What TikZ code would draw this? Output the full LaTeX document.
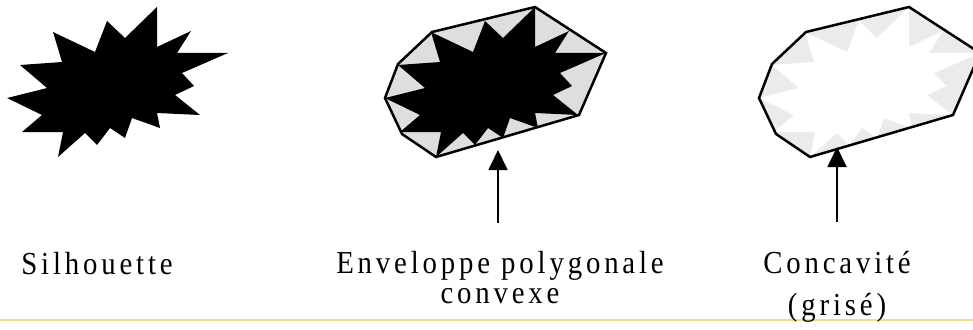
\documentclass[tikz,border=0pt]{standalone}
\usepackage{fontspec}
\setmainfont{Liberation Serif}[LetterSpace=12, FakeStretch=0.9]
\usetikzlibrary{arrows.meta}

% outline of the black spiky blob and of its convex hull
\newcommand{\starpath}{(7,98) -- (47,88) -- (20,65) -- (62,62) -- (53,32) -- (95,52) -- (107,21) -- (125,38) -- (157,7) -- (157,47) -- (191,31) -- (177,53) -- (228,53) -- (182,73) -- (194,86) -- (175,95) -- (200,115) -- (157,113) -- (160,128) -- (132,118) -- (125,138) -- (110,128) -- (97,145) -- (85,133) -- (58,157) -- (63,132) -- (22,132) -- (42,115) -- cycle}
\newcommand{\hullpath}{(7,98) -- (20,64) -- (54,32) -- (157,7) -- (228,53) -- (201,115) -- (58,157) -- (24,134) -- cycle}

\begin{document}
\begin{tikzpicture}[x=1pt, y=-1pt,
  hull/.style={line width=2.5pt, line join=miter},
  pointer/.style={line width=1.8pt, -{Triangle[length=20pt,width=19pt]}},
  caption/.style={font=\fontsize{32}{30}\selectfont, inner sep=0pt, anchor=base}
]
\clip (0,0) rectangle (973,329);

% page rule of the scan
\draw[line width=2pt, color={rgb,255:red,236;green,222;blue,140}] (0,320) -- (973,320);

% silhouette
\fill[black] \starpath;

% convex hull
\begin{scope}[xshift=378pt]
  \fill[black!13] \hullpath;
  \fill[black] \starpath;
  \draw[hull] \hullpath;
\end{scope}

% concavities
\begin{scope}[xshift=752pt]
  \fill[black!8] \hullpath;
  \fill[white] \starpath;
  \draw[hull] \hullpath;
\end{scope}

\node[caption] (silh) at (97,274) {Silhouette};
\node[caption, align=center] (env) at (500,303) {Enveloppe polygonale\\ convexe};
\node[caption, align=center] (conc) at (837,315) {Concavité\\[12pt] (grisé)};

\coordinate (footA) at (498,223);
\coordinate (tipA) at (498,150);
\coordinate (footB) at (837,222);
\coordinate (tipB) at (837,147);

\draw[pointer] (footA) -- (tipA);
\draw[pointer] (footB) -- (tipB);

\end{tikzpicture}
\end{document}
